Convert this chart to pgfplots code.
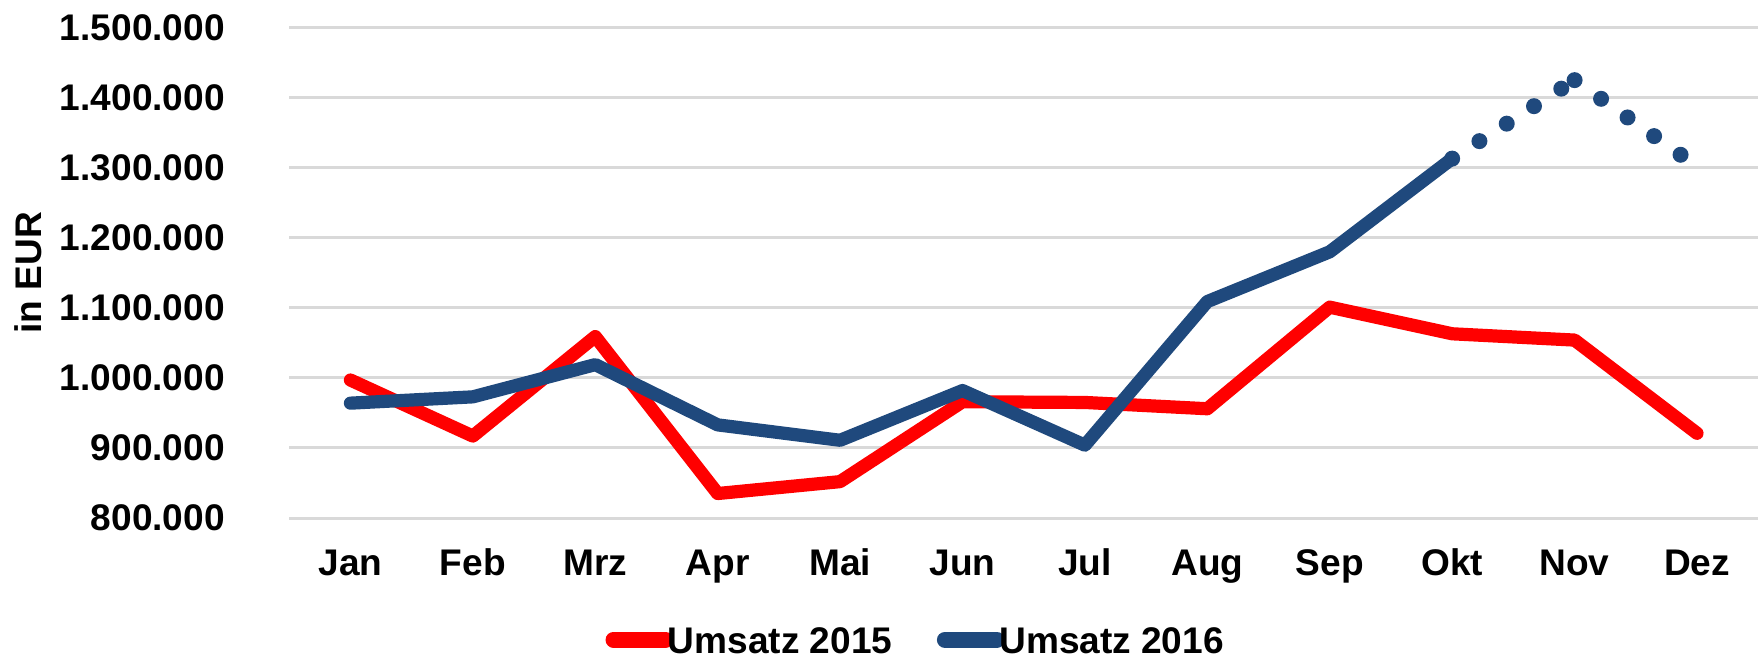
\documentclass[border=0pt]{standalone}
\usepackage{pgfplots}
\pgfplotsset{compat=1.18}
\usepackage{fontspec}
\setmainfont{Liberation Sans}

\definecolor{rot}{RGB}{255,0,0}
\definecolor{blau}{RGB}{31,73,125}
\definecolor{gitter}{RGB}{217,217,217}

\newcommand{\lblfont}{\fontsize{9.3}{11}\selectfont\bfseries}

\begin{document}
\begin{tikzpicture}
\begin{axis}[
    name=ax,
    scale only axis,
    width=367.2bp, height=122.6bp,
    xmin=-0.5, xmax=11.5,
    ymin=800000, ymax=1500000,
    xtick={0,...,11},
    xticklabels={Jan,Feb,Mrz,Apr,Mai,Jun,Jul,Aug,Sep,Okt,Nov,Dez},
    ytick={800000,900000,...,1500000},
    scaled y ticks=false,
    /pgf/number format/assume math mode=true,
    yticklabel style={/pgf/number format/fixed, /pgf/number format/1000 sep={.},
        font=\lblfont, anchor=east, inner sep=0pt, xshift=-15.9bp},
    xticklabel style={font=\lblfont, anchor=base, inner sep=0pt, yshift=-14.25bp},
    axis line style={draw=none},
    major tick length=0pt,
    ymajorgrids,
    major grid style={gitter, line width=0.75bp},
    ylabel={in EUR},
    ylabel style={font=\lblfont, at={(axis description cs:-0.1774,0.5)}, anchor=center, inner sep=0pt},
    legend columns=2,
    legend style={at={(axis description cs:0.4258,-0.2488)}, anchor=center,
        draw=none, fill=none, inner xsep=0pt, inner ysep=0pt, font=\lblfont,
        cells={anchor=base west, inner sep=0pt, text depth=0pt},
        nodes={inner sep=0pt, text depth=0pt},
        /tikz/every odd column/.append style={column sep=-1.4bp},
        /tikz/every even column/.append style={column sep=11.1bp}},
    legend image code/.code={\draw[#1, line width=4bp, line cap=round] (0bp,3.33bp) -- (13bp,3.33bp);},
]
% Umsatz 2015
\addplot[rot, line width=3.3bp, line join=round, line cap=round] coordinates {
    (0,997000) (1,917000) (2,1059000) (3,835000) (4,852000) (5,966000)
    (6,965000) (7,956000) (8,1101000) (9,1063000) (10,1054000) (11,921000)
};
\addlegendentry{Umsatz 2015}
% Umsatz 2016 (Ist)
\addplot[blau, line width=3.3bp, line join=round, line cap=round] coordinates {
    (0,964000) (1,973000) (2,1019000) (3,933000) (4,911000) (5,982000)
    (6,904000) (7,1109000) (8,1180000) (9,1313000)
};
\addlegendentry{Umsatz 2016}
% Umsatz 2016 (Prognose, gepunktet)
\addplot[blau, line width=4bp, line cap=round, dash pattern=on 0pt off 8.1bp, forget plot] coordinates {
    (9,1313000) (10,1425000)
};
\addplot[blau, line width=4bp, line cap=round, dash pattern=on 0pt off 8.1bp, forget plot] coordinates {
    (10,1425000) (11,1302000)
};
\end{axis}
\pgfresetboundingbox
\path ([shift={(-72.3bp,-34.75bp)}]ax.south west) rectangle ([shift={(0.7bp,6.9bp)}]ax.north east);
\end{tikzpicture}
\end{document}
